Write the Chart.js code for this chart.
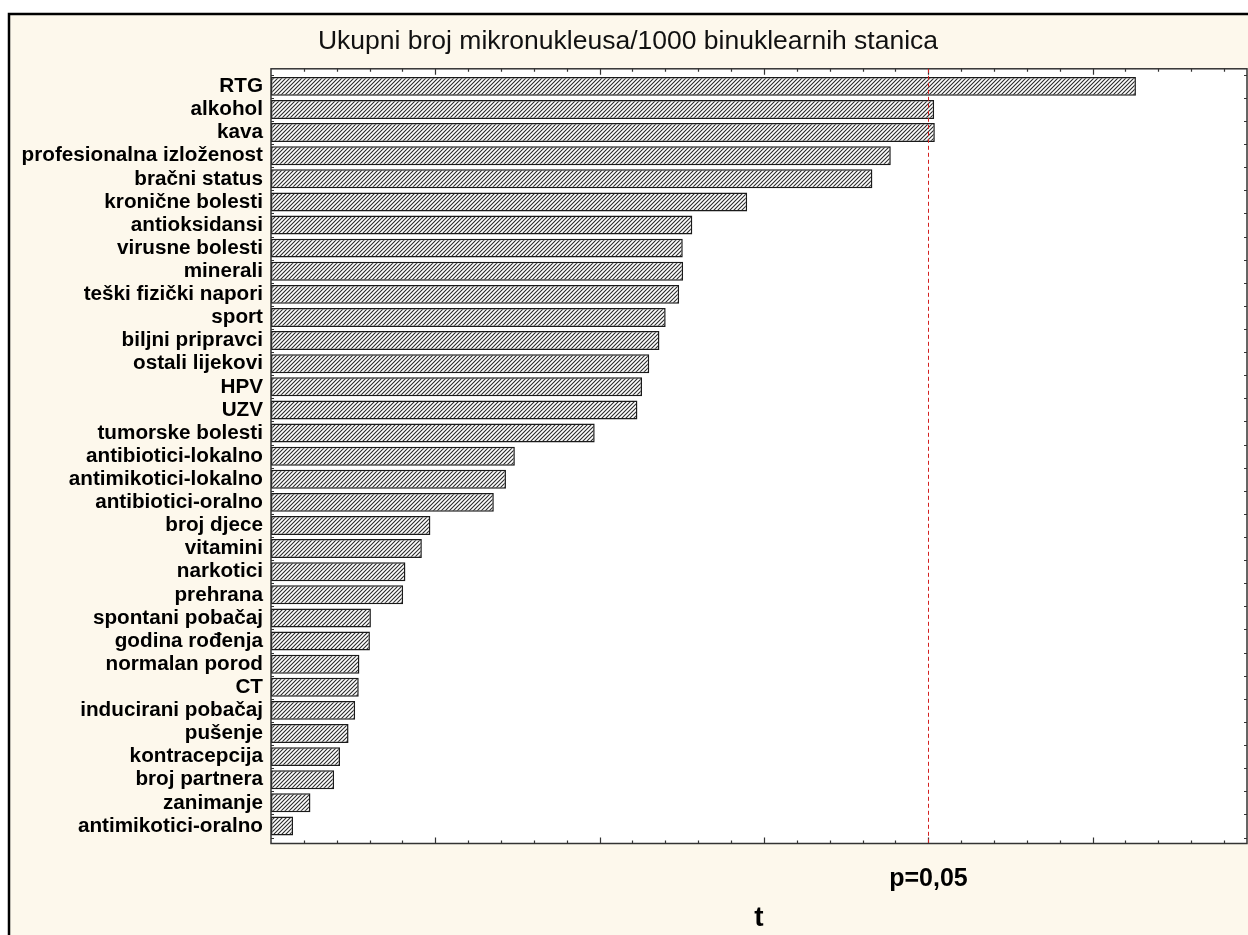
<!DOCTYPE html>
<html>
<head>
<meta charset="utf-8">
<script src="https://cdn.jsdelivr.net/npm/chart.js@4.4.1/dist/chart.umd.min.js"></script>
<style>
  html, body { margin: 0; padding: 0; background: #fff; }
  canvas { display: block; }
</style>
</head>
<body>
<canvas id="chart" width="1248" height="935"></canvas>
<script>
// data
const categories = [
  'RTG', 'alkohol', 'kava', 'profesionalna izloženost', 'bračni status',
  'kronične bolesti', 'antioksidansi', 'virusne bolesti', 'minerali',
  'teški fizički napori', 'sport', 'biljni pripravci', 'ostali lijekovi',
  'HPV', 'UZV', 'tumorske bolesti', 'antibiotici-lokalno',
  'antimikotici-lokalno', 'antibiotici-oralno', 'broj djece', 'vitamini',
  'narkotici', 'prehrana', 'spontani pobačaj', 'godina rođenja',
  'normalan porod', 'CT', 'inducirani pobačaj', 'pušenje', 'kontracepcija',
  'broj partnera', 'zanimanje', 'antimikotici-oralno'
];
const tValues = [
  2.632, 2.018, 2.020, 1.886, 1.830,
  1.449, 1.282, 1.253, 1.254,
  1.242, 1.201, 1.182, 1.151,
  1.129, 1.115, 0.985, 0.742,
  0.715, 0.678, 0.485, 0.459,
  0.409, 0.402, 0.304, 0.301,
  0.269, 0.267, 0.256, 0.236, 0.210,
  0.192, 0.120, 0.067
];
const criticalT = 2.0;
const criticalLabel = 'p=0,05';
const xMin = 0;
const xMax = 2.97;
const minorStep = 0.1;
const majorEvery = 5;

const FONT = "'Liberation Sans', Arial, sans-serif";

// diagonal hatch fill
const hatch = document.createElement('canvas');
hatch.width = 4;
hatch.height = 4;
const hc = hatch.getContext('2d');
hc.fillStyle = '#ffffff';
hc.fillRect(0, 0, 4, 4);
hc.strokeStyle = '#2a2a2a';
hc.lineWidth = 1.1;
hc.beginPath();
hc.moveTo(-1, 5); hc.lineTo(5, -1);
hc.moveTo(-1, 1); hc.lineTo(1, -1);
hc.moveTo(3, 5); hc.lineTo(5, 3);
hc.stroke();
const hatchPattern = hc.createPattern(hatch, 'repeat');

const boxPad = 6; // plot frame sits a bit outside the category band

const framePlugin = {
  id: 'frame',
  beforeDraw(chart) {
    const {ctx, chartArea: a} = chart;
    ctx.save();
    ctx.fillStyle = '#ffffff';
    ctx.fillRect(0, 0, chart.width, chart.height);
    ctx.fillStyle = '#fdf8ec';
    ctx.fillRect(9, 14, chart.width + 20, chart.height + 20);
    ctx.strokeStyle = '#000';
    ctx.lineWidth = 2.5;
    ctx.strokeRect(9, 14, chart.width + 20, chart.height + 20);
    ctx.fillStyle = '#ffffff';
    ctx.fillRect(a.left, a.top - boxPad, a.right - a.left, a.bottom - a.top + 2 * boxPad);
    ctx.restore();
  },
  afterDatasetsDraw(chart) {
    const {ctx, chartArea: a, scales} = chart;
    const top = a.top - boxPad;
    const bottom = a.bottom + boxPad;
    ctx.save();
    // plot box
    ctx.strokeStyle = '#333';
    ctx.lineWidth = 1.5;
    ctx.strokeRect(a.left, top, a.right - a.left, bottom - top);
    // x ticks, inward, top and bottom
    ctx.lineWidth = 1.2;
    ctx.beginPath();
    const n = Math.round((xMax - xMin) / minorStep);
    for (let i = 1; i <= n; i++) {
      const v = xMin + i * minorStep;
      const x = Math.round(scales.x.getPixelForValue(v)) + 0.5;
      const len = i % majorEvery === 0 ? 6 : 3;
      ctx.moveTo(x, bottom); ctx.lineTo(x, bottom - len);
      ctx.moveTo(x, top); ctx.lineTo(x, top + len);
    }
    // small y ticks at category edges
    for (let i = 0; i <= categories.length; i++) {
      const y = Math.round(scales.y.getPixelForValue(i - 0.5)) + 0.5;
      ctx.moveTo(a.left, y); ctx.lineTo(a.left + 3, y);
      ctx.moveTo(a.right, y); ctx.lineTo(a.right - 3, y);
    }
    ctx.stroke();
    // critical value line
    const xc = Math.round(scales.x.getPixelForValue(criticalT)) + 0.5;
    ctx.strokeStyle = '#d42020';
    ctx.lineWidth = 1;
    ctx.setLineDash([4, 3]);
    ctx.beginPath();
    ctx.moveTo(xc, top);
    ctx.lineTo(xc, bottom);
    ctx.stroke();
    ctx.setLineDash([]);
    ctx.fillStyle = '#000';
    ctx.font = 'bold 25px ' + FONT;
    ctx.textAlign = 'center';
    ctx.textBaseline = 'middle';
    ctx.fillText(criticalLabel, xc, bottom + 36);
    ctx.restore();
  }
};

new Chart(document.getElementById('chart'), {
  type: 'bar',
  data: {
    labels: categories,
    datasets: [{
      data: tValues,
      backgroundColor: hatchPattern,
      borderColor: '#1a1a1a',
      borderWidth: 1.5,
      borderSkipped: false,
      barPercentage: 0.82,
      categoryPercentage: 1
    }]
  },
  options: {
    indexAxis: 'y',
    responsive: false,
    animation: false,
    devicePixelRatio: 1,
    layout: {padding: {top: 24, right: 1, bottom: 0, left: 9}},
    plugins: {
      legend: {display: false},
      tooltip: {enabled: false},
      title: {
        display: true,
        text: 'Ukupni broj mikronukleusa/1000 binuklearnih stanica',
        color: '#111',
        font: {family: FONT, size: 26.5, weight: 'normal'},
        padding: {top: 2, bottom: 17}
      }
    },
    scales: {
      x: {
        min: xMin,
        max: xMax,
        grid: {display: false},
        border: {display: false},
        ticks: {display: false},
        title: {
          display: true,
          text: 't',
          color: '#000',
          font: {family: FONT, size: 28, weight: 'bold'},
          padding: {top: 0, bottom: 0}
        },
        afterFit(scale) { scale.height = 97.5; }
      },
      y: {
        grid: {display: false, drawTicks: false},
        border: {display: false},
        ticks: {
          color: '#000',
          padding: 8,
          autoSkip: false,
          font: {family: FONT, size: 20.7, weight: 'bold'}
        },
        afterFit(scale) { scale.width = 262; }
      }
    }
  },
  plugins: [framePlugin]
});
</script>
</body>
</html>
